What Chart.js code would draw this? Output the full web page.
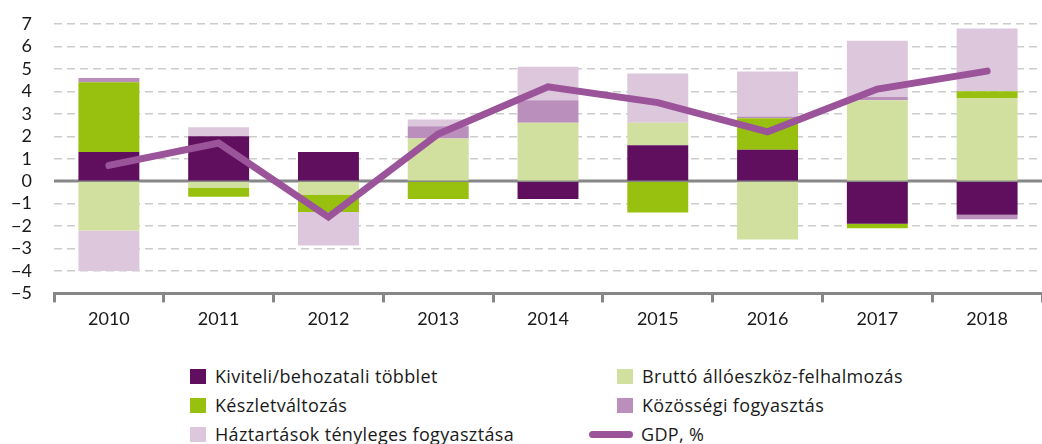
<!DOCTYPE html>
<html>
<head>
<meta charset="utf-8">
<script src="https://cdn.jsdelivr.net/npm/chart.js@4"></script>
<style>
  html, body { margin: 0; padding: 0; background: #fff; }
  body { width: 1042px; height: 444px; position: relative; overflow: hidden; font-family: "Open Sans", sans-serif; color: #1a1a1a; }
  #wrap { position: absolute; left: 0; top: 0; width: 1042px; height: 336px; }
  .legend-item { position: absolute; display: flex; align-items: center; font-size: 18px; letter-spacing: 0.35px; white-space: nowrap; }
  .legend-box { width: 16px; height: 15px; margin-right: 9px; }
  .legend-line { width: 44px; height: 7px; border-radius: 4px; margin-right: 8px; }
</style>
</head>
<body>
<div id="wrap"><canvas id="chart"></canvas></div>
<div id="legend"></div>
<script>
/* ── ADATOK ── */
const EVEK       = ['2010', '2011', '2012', '2013', '2014', '2015', '2016', '2017', '2018'];
const KIVITELI   = [1.3, 2.0, 1.3, 0, -0.8, 1.6, 1.4, -1.9, -1.5];
const BRUTTO     = [-2.2, -0.3, -0.6, 1.9, 2.6, 1.0, -2.6, 3.6, 3.7];
const KESZLET    = [3.1, -0.4, -0.77, -0.8, 0, -1.4, 1.4, -0.2, 0.3];
const KOZOSSEGI  = [0.2, 0, 0, 0.55, 1.0, 0, 0.08, 0.15, -0.2];
const HAZTARTAS  = [-1.8, 0.4, -1.5, 0.3, 1.5, 2.2, 2.0, 2.5, 2.8];
const GDP        = [0.7, 1.7, -1.6, 2.1, 4.2, 3.5, 2.2, 4.1, 4.9];

const SZINEK = {
  kiviteli:  '#5f0f5e',
  brutto:    '#d1df9f',
  keszlet:   '#98c00e',
  kozossegi: '#bb8fbb',
  haztartas: '#dcc7dd',
  gdp:       '#9b5499'
};

const bar = (label, data, color) => ({
  type: 'bar', label, data, backgroundColor: color, borderWidth: 0,
  stack: 's', order: 2, categoryPercentage: 0.555, barPercentage: 1
});

/* zero line, solid */
const nullaVonal = {
  id: 'nullaVonal',
  beforeDatasetsDraw(chart) {
    const { ctx, chartArea, scales } = chart;
    const y = Math.round(scales.y.getPixelForValue(0));
    ctx.save();
    ctx.strokeStyle = '#878787';
    ctx.lineWidth = 3;
    ctx.beginPath();
    ctx.moveTo(chartArea.left, y);
    ctx.lineTo(chartArea.right, y);
    ctx.stroke();
    ctx.restore();
  }
};

new Chart(document.getElementById('chart'), {
  data: {
    labels: EVEK,
    datasets: [
      bar('Kiviteli/behozatali többlet', KIVITELI, SZINEK.kiviteli),
      bar('Bruttó állóeszköz-felhalmozás', BRUTTO, SZINEK.brutto),
      bar('Készletváltozás', KESZLET, SZINEK.keszlet),
      bar('Közösségi fogyasztás', KOZOSSEGI, SZINEK.kozossegi),
      bar('Háztartások tényleges fogyasztása', HAZTARTAS, SZINEK.haztartas),
      {
        type: 'line', label: 'GDP, %', data: GDP, borderColor: SZINEK.gdp,
        borderWidth: 7, pointRadius: 0, tension: 0, borderCapStyle: 'round',
        borderJoinStyle: 'miter', order: 1
      }
    ]
  },
  options: {
    responsive: true, maintainAspectRatio: false, animation: false,
    layout: { padding: { left: 10, right: 0, top: 24, bottom: 0 } },
    plugins: { legend: { display: false }, tooltip: { enabled: false } },
    scales: {
      x: {
        stacked: true,
        grid: { offset: true, drawOnChartArea: false, drawTicks: true, tickLength: 9, color: '#878787', lineWidth: 3 },
        border: { color: '#878787', width: 3 },
        ticks: { color: '#1a1a1a', font: { family: 'Lato', size: 18 }, padding: 6 }
      },
      y: {
        stacked: true, min: -5, max: 7,
        afterFit(s) { s.width = 44; s.paddingTop = 0; s.paddingBottom = 0; },
        grid: { color: '#cccccc', lineWidth: 1.5, drawTicks: false },
        border: { display: false, dash: [8, 5] },
        ticks: {
          stepSize: 1, autoSkip: false, padding: 22, color: '#1a1a1a', font: { family: 'Lato', size: 18 },
          callback: v => (v < 0 ? '\u2212' + Math.abs(v) : String(v))
        }
      }
    }
  },
  plugins: [nullaVonal]
});

/* ── JELMAGYARÁZAT ── */
const LEGENDA = [
  { text: 'Kiviteli/behozatali többlet',        color: SZINEK.kiviteli,  x: 190, y: 376 },
  { text: 'Bruttó állóeszköz-felhalmozás',      color: SZINEK.brutto,    x: 617, y: 376 },
  { text: 'Készletváltozás',                    color: SZINEK.keszlet,   x: 190, y: 405 },
  { text: 'Közösségi fogyasztás',               color: SZINEK.kozossegi, x: 617, y: 405 },
  { text: 'Háztartások tényleges fogyasztása',  color: SZINEK.haztartas, x: 190, y: 434 },
  { text: 'GDP, %',                             color: SZINEK.gdp,       x: 589, y: 434, line: true }
];
document.getElementById('legend').innerHTML = LEGENDA.map(l => `
  <div class="legend-item" style="left:${l.x}px;top:${l.y - 12}px;height:24px">
    <span class="${l.line ? 'legend-line' : 'legend-box'}" style="background:${l.color}"></span>${l.text}
  </div>`).join('');
</script>
</body>
</html>
